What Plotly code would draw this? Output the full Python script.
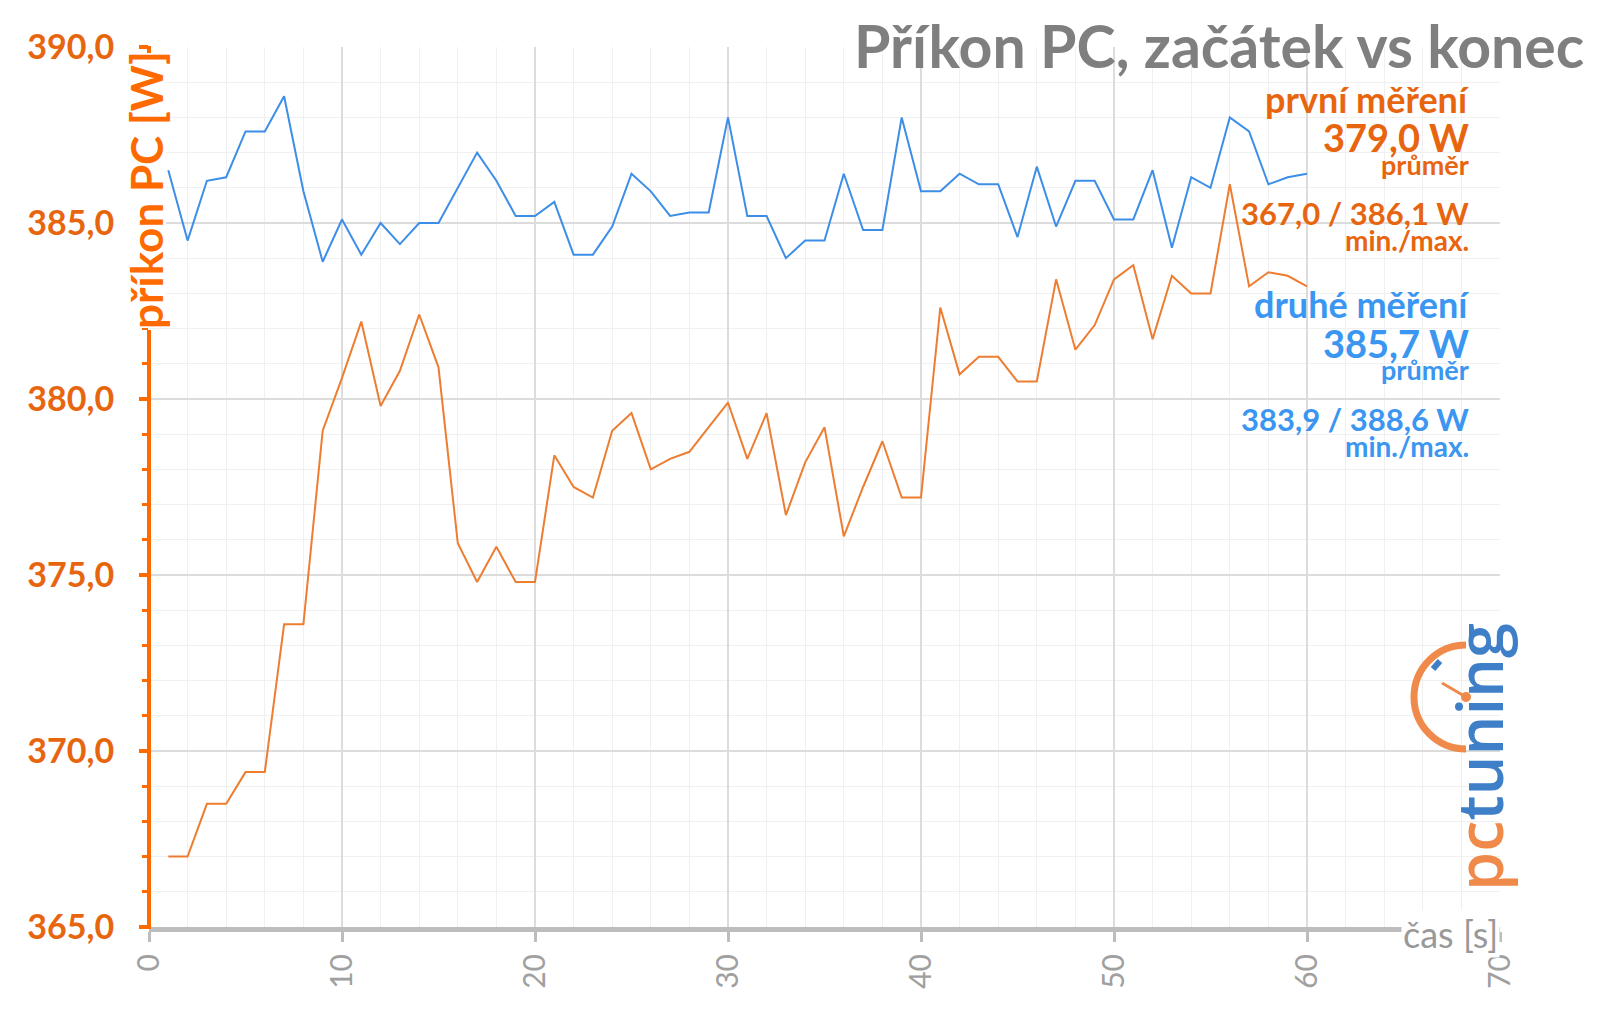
import plotly.graph_objects as go

# ---- data ----
seconds = list(range(1, 61))
first_run = [367.0, 367.0, 368.5, 368.5, 369.4, 369.4, 373.6, 373.6, 379.1, 380.6,
             382.2, 379.8, 380.8, 382.4, 380.9, 375.9, 374.8, 375.8, 374.8, 374.8,
             378.4, 377.5, 377.2, 379.1, 379.6, 378.0, 378.3, 378.5, 379.2, 379.9,
             378.3, 379.6, 376.7, 378.2, 379.2, 376.1, 377.5, 378.8, 377.2, 377.2,
             382.6, 380.7, 381.2, 381.2, 380.5, 380.5, 383.4, 381.4, 382.1, 383.4,
             383.8, 381.7, 383.5, 383.0, 383.0, 386.1, 383.2, 383.6, 383.5, 383.2]
second_run = [386.5, 384.5, 386.2, 386.3, 387.6, 387.6, 388.6, 385.9, 383.9, 385.1,
              384.1, 385.0, 384.4, 385.0, 385.0, 386.0, 387.0, 386.2, 385.2, 385.2,
              385.6, 384.1, 384.1, 384.9, 386.4, 385.9, 385.2, 385.3, 385.3, 388.0,
              385.2, 385.2, 384.0, 384.5, 384.5, 386.4, 384.8, 384.8, 388.0, 385.9,
              385.9, 386.4, 386.1, 386.1, 384.6, 386.6, 384.9, 386.2, 386.2, 385.1,
              385.1, 386.5, 384.3, 386.3, 386.0, 388.0, 387.6, 386.1, 386.3, 386.4]

title_text = "Příkon PC, začátek vs konec"
y_title = "příkon PC [W]"
x_title = "čas [s]"
first_label = ["první měření", "379,0 W", "průměr", "367,0 / 386,1 W", "min./max."]
second_label = ["druhé měření", "385,7 W", "průměr", "383,9 / 388,6 W", "min./max."]

# ---- styles ----
W, H = 1600, 1011
L, R, T, B = 149, 1500, 47, 927
ORANGE_AX = "#FF6A00"
ORANGE_TXT = "#E8650F"
ORANGE_LN = "#ED7D31"
BLUE_TXT = "#3A96F0"
BLUE_LN = "#3D8EE6"
FONT = "Lato"


def px(x):
    return (x - L) / (R - L)


def py(y):
    return (B - y) / (B - T)


fig = go.Figure()
fig.add_trace(go.Scatter(x=seconds, y=first_run, mode="lines",
                         line=dict(color=ORANGE_LN, width=2), name="první"))
fig.add_trace(go.Scatter(x=seconds, y=second_run, mode="lines",
                         line=dict(color=BLUE_LN, width=2), name="druhé"))

fig.update_layout(
    width=W, height=H,
    margin=dict(l=L, r=W - R, t=T, b=H - B),
    paper_bgcolor="white", plot_bgcolor="white",
    showlegend=False,
    separators=", ",
    font=dict(family=FONT),
)

fig.update_xaxes(
    range=[0, 70], dtick=10, tick0=0,
    showline=True, linecolor="#BDBDBD", linewidth=5,
    ticks="outside", ticklen=10, tickwidth=3, tickcolor="#BDBDBD",
    tickangle=-90, tickfont=dict(family=FONT, size=30, color="#A0A0A0"),
    showgrid=True, gridcolor="#DCDCDC", gridwidth=2,
    minor=dict(dtick=2, showgrid=True, gridcolor="#F0F0F0", gridwidth=1),
    zeroline=False,
)
fig.update_yaxes(
    range=[365, 390], dtick=5, tick0=365, tickformat=".1f",
    showline=False,
    ticks="outside", ticklen=9, tickwidth=4, tickcolor=ORANGE_AX,
    ticklabelstandoff=18,
    tickfont=dict(family=FONT, size=34, color=ORANGE_TXT, weight="bold"),
    showgrid=True, gridcolor="#DCDCDC", gridwidth=2,
    minor=dict(dtick=1, ticks="outside", ticklen=6, tickwidth=3, tickcolor=ORANGE_AX,
               showgrid=True, gridcolor="#F0F0F0", gridwidth=1),
    zeroline=False,
)

# white backing behind the y-axis title (hides ticks / grid under it)
fig.add_shape(type="rect", xref="paper", yref="paper", layer="above",
              x0=px(128), x1=px(166), y0=py(328), y1=py(54),
              fillcolor="white", line=dict(width=0))
# y-axis line drawn in two pieces, interrupted by the axis title
for y0, y1 in [(B + 2, 330), (53, T - 1)]:
    fig.add_shape(type="line", xref="paper", yref="paper", layer="above",
                  x0=0, x1=0, y0=py(y0), y1=py(y1),
                  line=dict(color=ORANGE_AX, width=4))

ann = []
ann.append(dict(text=f"<b>{title_text}</b>", x=px(1586), y=py(45), xref="paper", yref="paper",
                xanchor="right", yanchor="middle", showarrow=False,
                font=dict(family=FONT, size=59, color="#7F7F7F")))
ann.append(dict(text=f"<b>{y_title}</b>", x=px(146), y=py(190), xref="paper", yref="paper",
                xanchor="center", yanchor="middle", textangle=-90, showarrow=False,
                font=dict(family=FONT, size=44, color=ORANGE_AX)))
ann.append(dict(text=x_title, x=px(1500), y=py(934), xref="paper", yref="paper",
                xanchor="right", yanchor="middle", showarrow=False,
                bgcolor="white", borderpad=1,
                font=dict(family=FONT, size=36, color="#999999")))

sizes = [36, 38, 27, 31, 28]
ys1 = [99, 137, 165, 213, 240]
ys2 = [304, 343, 369, 419, 446]
for txt, s, yy in zip(first_label, sizes, ys1):
    ann.append(dict(text=f"<b>{txt}</b>", x=px(1471), y=py(yy), xref="paper", yref="paper",
                    xanchor="right", yanchor="middle", showarrow=False,
                    font=dict(family=FONT, size=s, color=ORANGE_TXT)))
for txt, s, yy in zip(second_label, sizes, ys2):
    ann.append(dict(text=f"<b>{txt}</b>", x=px(1471), y=py(yy), xref="paper", yref="paper",
                    xanchor="right", yanchor="middle", showarrow=False,
                    font=dict(family=FONT, size=s, color=BLUE_TXT)))

# logo text
ann.append(dict(text="<span style='color:#F08A4B'>pc</span><span style='color:#3F7FC8'>tuning</span>",
                x=px(1478), y=py(757), xref="paper", yref="paper",
                xanchor="center", yanchor="middle", textangle=-90, showarrow=False,
                font=dict(family="Open Sans", size=63, color="#3F7FC8", weight=600)))
fig.update_layout(annotations=ann)

# logo gauge (decoration): left half circle
cx, cy, r = 1466, 697, 52
k = 0.5523 * r
fig.add_shape(type="path", xref="paper", yref="paper",
              path=(f"M {px(cx)} {py(cy - r)} "
                    f"C {px(cx - k)} {py(cy - r)} {px(cx - r)} {py(cy - k)} {px(cx - r)} {py(cy)} "
                    f"C {px(cx - r)} {py(cy + k)} {px(cx - k)} {py(cy + r)} {px(cx)} {py(cy + r)}"),
              line=dict(color="#F08A4B", width=7))
fig.add_shape(type="line", xref="paper", yref="paper",
              x0=px(1442), y0=py(683), x1=px(cx), y1=py(cy),
              line=dict(color="#F08A4B", width=3))
fig.add_shape(type="circle", xref="paper", yref="paper",
              x0=px(cx - 5), y0=py(cy - 5), x1=px(cx + 5), y1=py(cy + 5),
              fillcolor="#F08A4B", line=dict(width=0))
fig.add_shape(type="line", xref="paper", yref="paper",
              x0=px(1433), y0=py(669), x1=px(1440), y1=py(661),
              line=dict(color="#3F7FC8", width=6))

fig.write_html("out.html")
